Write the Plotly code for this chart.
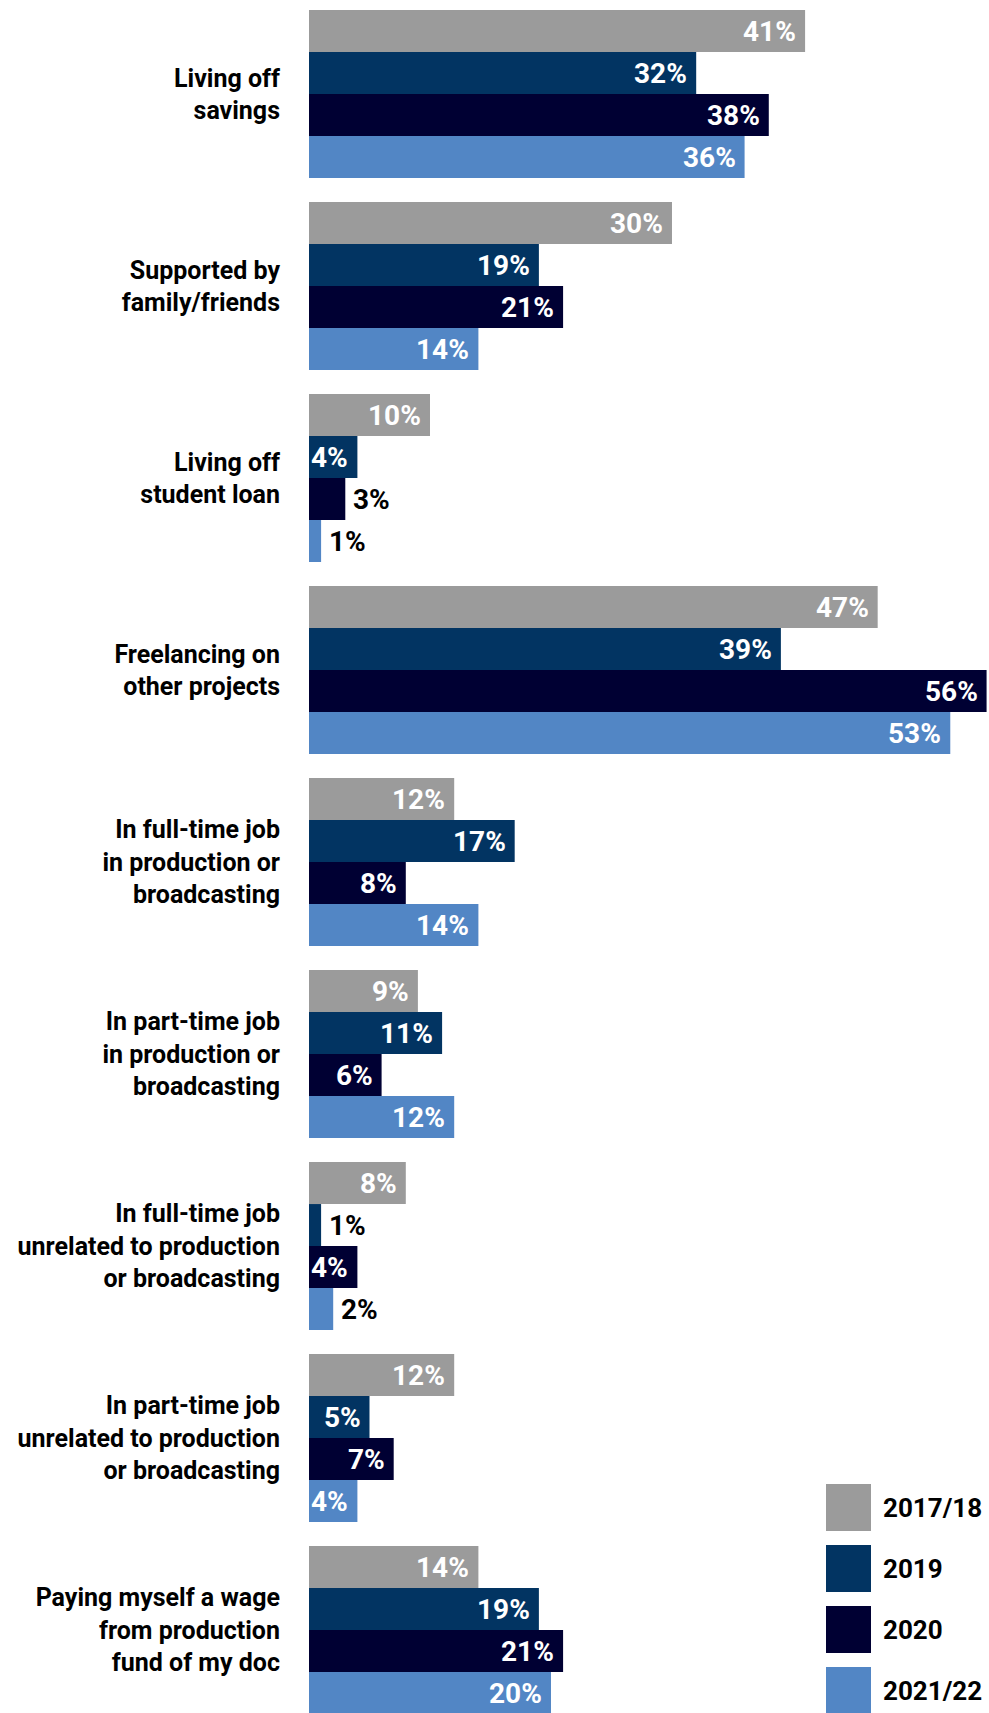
import plotly.graph_objects as go

# Ways of supporting oneself while making a documentary, by survey year (%)
categories = [
    "Living off<br>savings",
    "Supported by<br>family/friends",
    "Living off<br>student loan",
    "Freelancing on<br>other projects",
    "In full-time job<br>in production or<br>broadcasting",
    "In part-time job<br>in production or<br>broadcasting",
    "In full-time job<br>unrelated to production<br>or broadcasting",
    "In part-time job<br>unrelated to production<br>or broadcasting",
    "Paying myself a wage<br>from production<br>fund of my doc",
]
years = ["2017/18", "2019", "2020", "2021/22"]
vals_2017_18 = [41, 30, 10, 47, 12, 9, 8, 12, 14]
vals_2019 = [32, 19, 4, 39, 17, 11, 1, 5, 19]
vals_2020 = [38, 21, 3, 56, 8, 6, 4, 7, 21]
vals_2021_22 = [36, 14, 1, 53, 14, 12, 2, 4, 20]
series = [vals_2017_18, vals_2019, vals_2020, vals_2021_22]
colors = ["#9b9b9b", "#023462", "#000033", "#5286c5"]

W, H = 989, 1713
LEFT = 309
X_MAX = 56.2
PX_PER_UNIT = (W - LEFT) / X_MAX
BAR_PX = 42
LABEL_FONT = "Roboto"
LABEL_SIZE = 28
PAD = 7

fig = go.Figure()
for name, vals, col in zip(years, series, colors):
    fig.add_trace(go.Bar(
        y=categories, x=vals, name=name, orientation="h",
        marker=dict(color=col, line=dict(width=0)),
        showlegend=False, hoverinfo="skip",
    ))

# value labels: inside the bar end when they fit, otherwise just past it
annotations = []
for i, (vals, col) in enumerate(zip(series, colors)):
    yshift = (1.5 - i) * BAR_PX
    for cat, v in zip(categories, vals):
        ndig = len(str(v))
        est_w = LABEL_SIZE * (0.562 * ndig + 0.74)
        bar_w = v * PX_PER_UNIT
        inside = bar_w >= est_w + PAD
        annotations.append(dict(
            x=v, y=cat, xref="x", yref="y", text=f"<b>{v}%</b>",
            showarrow=False, yshift=yshift,
            xanchor="right" if inside else "left",
            xshift=-PAD if inside else 6,
            font=dict(family=LABEL_FONT, size=LABEL_SIZE,
                      color="white" if inside else "black"),
        ))

# legend: coloured squares with year labels, bottom right
shapes = []
legend_top = 1484
for i, (name, col) in enumerate(zip(years, colors)):
    y0 = legend_top + i * 61
    shapes.append(dict(type="rect", xref="paper", yref="paper",
                       x0=(826 - LEFT) / (W - LEFT), x1=(871 - LEFT) / (W - LEFT),
                       y0=1 - (y0 + 47) / H, y1=1 - y0 / H,
                       fillcolor=col, line=dict(width=0), layer="above"))
    annotations.append(dict(
        x=(881 - LEFT) / (W - LEFT), y=1 - (y0 + 24) / H,
        xref="paper", yref="paper", xanchor="left", yanchor="middle",
        text=f"<b>{name}</b>", showarrow=False,
        font=dict(family="Roboto", size=26, color="black"),
    ))

fig.update_layout(
    width=W, height=H,
    margin=dict(l=LEFT, r=0, t=0, b=0),
    paper_bgcolor="white", plot_bgcolor="white",
    barmode="group", bargap=0.125, bargroupgap=0,
    annotations=annotations, shapes=shapes,
    showlegend=False,
    font=dict(family="Roboto", color="black"),
)
fig.update_xaxes(range=[0, X_MAX], showgrid=False, zeroline=False,
                 showticklabels=False, showline=False)
fig.update_yaxes(range=[8.432, -0.4896], showgrid=False, zeroline=False,
                 showline=False, ticks="", ticklabelstandoff=28,
                 tickfont=dict(family="Roboto", size=25, color="black",
                               weight="bold"))

fig.write_html("out.html")
